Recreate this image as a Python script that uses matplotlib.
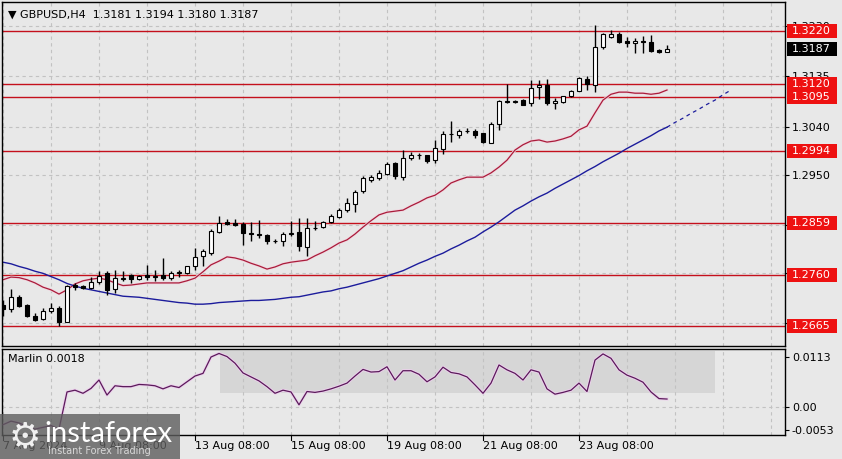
import numpy as np
import matplotlib.pyplot as plt
from matplotlib.patches import Rectangle
from matplotlib.transforms import blended_transform_factory

# GBPUSD H4 candles, first bar = 7 Aug 2024 08:00
opens = [1.2705, 1.2697, 1.2720, 1.2704, 1.2684, 1.2679, 1.2693, 1.2699, 1.2673, 1.2742,
         1.2740, 1.2737, 1.2747, 1.2764, 1.2734, 1.2754, 1.2761, 1.2753, 1.2761, 1.2758,
         1.2761, 1.2755, 1.2765, 1.2765, 1.2777, 1.2796, 1.2803, 1.2841, 1.2861, 1.2858,
         1.2857, 1.2840, 1.2838, 1.2837, 1.2824, 1.2824, 1.2838, 1.2842, 1.2814, 1.2849,
         1.2852, 1.2860, 1.2870, 1.2883, 1.2895, 1.2919, 1.2939, 1.2943, 1.2951, 1.2971,
         1.2946, 1.2981, 1.2987, 1.2986, 1.2977, 1.2998, 1.3026, 1.3025, 1.3031, 1.3032,
         1.3028, 1.3010, 1.3045, 1.3088, 1.3087, 1.3090, 1.3084, 1.3114, 1.3118, 1.3085,
         1.3086, 1.3097, 1.3108, 1.3130, 1.3119, 1.3190, 1.3208, 1.3214, 1.3201, 1.3197,
         1.3202, 1.3199, 1.3185, 1.3181]
highs = [1.2714, 1.2735, 1.2724, 1.2707, 1.2690, 1.2699, 1.2709, 1.2702, 1.2743, 1.2746,
         1.2743, 1.2757, 1.2769, 1.2768, 1.2771, 1.2768, 1.2762, 1.2761, 1.2780, 1.2771,
         1.2793, 1.2769, 1.2771, 1.2778, 1.2812, 1.2810, 1.2847, 1.2872, 1.2867, 1.2866,
         1.2860, 1.2860, 1.2865, 1.2838, 1.2828, 1.2841, 1.2863, 1.2868, 1.2868, 1.2862,
         1.2863, 1.2876, 1.2887, 1.2906, 1.2921, 1.2947, 1.2949, 1.2959, 1.2974, 1.2974,
         1.2996, 1.2993, 1.2991, 1.2987, 1.3014, 1.3031, 1.3051, 1.3035, 1.3037, 1.3036,
         1.3029, 1.3048, 1.3090, 1.3120, 1.3091, 1.3092, 1.3128, 1.3127, 1.3129, 1.3094,
         1.3098, 1.3109, 1.3134, 1.3135, 1.3231, 1.3217, 1.3222, 1.3219, 1.3208, 1.3206,
         1.3211, 1.3212, 1.3186, 1.3194]
lows = [1.2684, 1.2692, 1.2701, 1.2682, 1.2675, 1.2676, 1.2690, 1.2664, 1.2672, 1.2732,
        1.2735, 1.2735, 1.2744, 1.2724, 1.2727, 1.2749, 1.2746, 1.2751, 1.2752, 1.2750,
        1.2752, 1.2752, 1.2758, 1.2763, 1.2771, 1.2778, 1.2799, 1.2840, 1.2855, 1.2853,
        1.2818, 1.2825, 1.2830, 1.2820, 1.2821, 1.2816, 1.2835, 1.2806, 1.2796, 1.2845,
        1.2850, 1.2858, 1.2868, 1.2880, 1.2880, 1.2915, 1.2935, 1.2940, 1.2949, 1.2941,
        1.2939, 1.2978, 1.2980, 1.2972, 1.2972, 1.2989, 1.3012, 1.3018, 1.3028, 1.3019,
        1.3009, 1.3009, 1.3033, 1.3084, 1.3085, 1.3080, 1.3079, 1.3093, 1.3081, 1.3073,
        1.3084, 1.3096, 1.3107, 1.3109, 1.3106, 1.3187, 1.3206, 1.3198, 1.3189, 1.3179,
        1.3179, 1.3181, 1.3178, 1.3180]
closes = [1.2696, 1.2720, 1.2703, 1.2684, 1.2677, 1.2694, 1.2698, 1.2672, 1.2741, 1.2739,
          1.2737, 1.2748, 1.2759, 1.2733, 1.2755, 1.2755, 1.2754, 1.2759, 1.2758, 1.2759,
          1.2755, 1.2765, 1.2766, 1.2777, 1.2795, 1.2806, 1.2844, 1.2859, 1.2856, 1.2855,
          1.2840, 1.2838, 1.2837, 1.2824, 1.2825, 1.2838, 1.2840, 1.2815, 1.2849, 1.2850,
          1.2860, 1.2872, 1.2884, 1.2897, 1.2918, 1.2943, 1.2945, 1.2953, 1.2970, 1.2947,
          1.2981, 1.2987, 1.2986, 1.2976, 1.2999, 1.3026, 1.3027, 1.3031, 1.3032, 1.3024,
          1.3012, 1.3045, 1.3088, 1.3087, 1.3088, 1.3081, 1.3112, 1.3118, 1.3085, 1.3089,
          1.3097, 1.3108, 1.3131, 1.3120, 1.3190, 1.3214, 1.3214, 1.3200, 1.3197, 1.3202,
          1.3200, 1.3183, 1.3181, 1.3187]

# fast MA (red)
ma_fast = [1.2752, 1.2757, 1.2756, 1.2752, 1.2746, 1.2738, 1.2733, 1.2725, 1.2733, 1.2744,
           1.2750, 1.2753, 1.2755, 1.2752, 1.2746, 1.2741, 1.2742, 1.2744, 1.2746, 1.2746,
           1.2746, 1.2746, 1.2746, 1.2750, 1.2755, 1.2767, 1.2780, 1.2787, 1.2795, 1.2793,
           1.2789, 1.2783, 1.2778, 1.2772, 1.2776, 1.2782, 1.2785, 1.2787, 1.2789, 1.2797,
           1.2804, 1.2812, 1.2821, 1.2827, 1.2838, 1.2851, 1.2863, 1.2874, 1.2879, 1.2881,
           1.2883, 1.2891, 1.2898, 1.2906, 1.2911, 1.2921, 1.2934, 1.2940, 1.2945, 1.2945,
           1.2945, 1.2953, 1.2964, 1.2977, 1.2996, 1.3006, 1.3013, 1.3015, 1.3011, 1.3013,
           1.3017, 1.3022, 1.3034, 1.3041, 1.3066, 1.3090, 1.3101, 1.3105, 1.3105, 1.3103,
           1.3103, 1.3101, 1.3103, 1.3109]

# slow MA (blue), the last 8 values run past the last bar
ma_slow = [1.2785, 1.2782, 1.2777, 1.2773, 1.2768, 1.2764, 1.2758, 1.2752, 1.2745, 1.2740,
           1.2736, 1.2733, 1.2730, 1.2727, 1.2724, 1.2721, 1.2720, 1.2719, 1.2717, 1.2715,
           1.2713, 1.2711, 1.2709, 1.2708, 1.2706, 1.2706, 1.2707, 1.2709, 1.2710, 1.2711,
           1.2712, 1.2713, 1.2713, 1.2714, 1.2715, 1.2717, 1.2719, 1.2720, 1.2723, 1.2726,
           1.2729, 1.2731, 1.2735, 1.2738, 1.2742, 1.2746, 1.2750, 1.2754, 1.2759, 1.2764,
           1.2769, 1.2776, 1.2783, 1.2789, 1.2796, 1.2802, 1.2810, 1.2817, 1.2825, 1.2832,
           1.2842, 1.2851, 1.2861, 1.2872, 1.2883, 1.2891, 1.2900, 1.2908, 1.2915, 1.2924,
           1.2932, 1.2940, 1.2948, 1.2957, 1.2965, 1.2974, 1.2982, 1.2990, 1.2999, 1.3007,
           1.3015, 1.3023, 1.3032, 1.3039, 1.3048, 1.3056, 1.3065, 1.3073, 1.3082, 1.3090,
           1.3100, 1.3109]

marlin = [-0.0040, -0.0032, -0.0036, -0.0044, -0.0050, -0.0046, -0.0042, -0.0050, 0.0034, 0.0038,
          0.0031, 0.0042, 0.0061, 0.0027, 0.0048, 0.0046, 0.0046, 0.0051, 0.0050, 0.0048,
          0.0041, 0.0048, 0.0044, 0.0057, 0.0070, 0.0076, 0.0113, 0.0121, 0.0114, 0.0099,
          0.0077, 0.0068, 0.0059, 0.0046, 0.0031, 0.0038, 0.0034, 0.0005, 0.0035, 0.0033,
          0.0036, 0.0041, 0.0047, 0.0054, 0.0070, 0.0085, 0.0079, 0.0080, 0.0091, 0.0061,
          0.0082, 0.0082, 0.0074, 0.0057, 0.0068, 0.0090, 0.0078, 0.0075, 0.0068, 0.0050,
          0.0031, 0.0054, 0.0095, 0.0084, 0.0076, 0.0061, 0.0084, 0.0079, 0.0041, 0.0029,
          0.0033, 0.0038, 0.0054, 0.0035, 0.0106, 0.0120, 0.0110, 0.0084, 0.0072, 0.0065,
          0.0056, 0.0034, 0.0019, 0.0018]

levels = [1.3220, 1.3120, 1.3095, 1.2994, 1.2859, 1.2760, 1.2665]
last_price = 1.3187
price_ticks = [1.2670, 1.2765, 1.2855, 1.2950, 1.3040, 1.3135, 1.3230]
# the three lowest scale labels sit under the red level boxes
price_labels = ['', '', '', '1.2950', '1.3040', '1.3135', '1.3230']
date_pos = [0, 12, 24, 36, 48, 60, 72]
date_labels = ['7 Aug 2024', '9 Aug 08:00', '13 Aug 08:00', '15 Aug 08:00',
               '19 Aug 08:00', '21 Aug 08:00', '23 Aug 08:00']
marlin_ticks = [-0.0053, 0.0, 0.0113]
marlin_labels = ['-0.0053', '0.00', '0.0113']
title = '\u25bc GBPUSD,H4  1.3181 1.3194 1.3180 1.3187'

bg = '#e8e8e8'
grid_c = '#c2c2c2'
W, H = 842, 459

fig = plt.figure(figsize=(W / 100, H / 100), dpi=100, facecolor=bg)
# main panel from y=2 to 346 px, indicator from 349 to 435 px
ax = fig.add_axes([2 / W, 1 - 346 / H, 783 / W, 344 / H], facecolor=bg)
ax2 = fig.add_axes([2 / W, 1 - 435 / H, 783 / W, 86 / H], facecolor=bg)

n = len(opens)
x = np.arange(n)
o = np.array(opens)
c = np.array(closes)

ax.set_xlim(-0.125, 97.75)
ax.set_ylim(1.26273, 1.32746)
ax2.set_xlim(-0.125, 97.75)
ax2.set_ylim(-0.00633, 0.01311)

for a in (ax, ax2):
    a.set_xticks(np.arange(0, 98, 6))
    a.grid(axis='x', color=grid_c, ls=(0, (3, 3)), lw=0.8)
    a.tick_params(axis='x', length=0, labelbottom=False)
    for s in a.spines.values():
        s.set_color('black')
        s.set_linewidth(1)
    a.set_axisbelow(True)

# main panel
ax.yaxis.tick_right()
ax.set_yticks(price_ticks)
ax.set_yticklabels(price_labels)
ax.tick_params(axis='y', length=3, width=0.8, pad=2, labelsize=8)
ax.grid(axis='y', color=grid_c, ls=(0, (3, 3)), lw=0.8)

for lv in levels:
    ax.axhline(lv, color='#c4101c', lw=1, zorder=2)

ax.plot(x, ma_fast, color='#f2d6e0', lw=2, zorder=2)
ax.plot(x, ma_fast, color='#a81c3a', lw=0.9, zorder=2)
ax.plot(x, ma_slow[:n], color='#1c1c9c', lw=1, zorder=2)
xf = np.arange(n - 1, len(ma_slow))
ax.plot(xf, ma_slow[n - 1:], color='#1c1c9c', lw=0.9, ls=(0, (3, 3)), zorder=2)

body_lo = np.minimum(o, c)
body_h = np.maximum(np.abs(c - o), 0.00002)
ax.vlines(x, lows, highs, color='black', lw=1, zorder=3)
ax.bar(x, body_h, bottom=body_lo, width=0.62,
       color=np.where(c >= o, 'white', 'black'), edgecolor='black', lw=0.8, zorder=4)

ax.text(6 / 783, 1 - 13 / 344, title, transform=ax.transAxes, fontsize=8,
        va='center', ha='left', color='black')

# right-hand price boxes
per_px = (ax.get_ylim()[1] - ax.get_ylim()[0]) / 344
trans = blended_transform_factory(ax.transAxes, ax.transData)
bx = (787 - 2) / 783
tx = (792 - 2) / 783
for lv in levels + [last_price]:
    fc = 'black' if lv == last_price else '#ee1111'
    ax.add_patch(Rectangle((bx, lv - 7 * per_px), 50 / 783, 14 * per_px, transform=trans,
                           facecolor=fc, edgecolor='none', clip_on=False, zorder=6))
    ax.text(tx, lv, '%.4f' % lv, transform=trans, color='white', fontsize=8,
            va='center', ha='left', clip_on=False, zorder=7)

# indicator panel
ax2.add_patch(Rectangle((27.1, 0.0032), 61.9, 0.0095, facecolor='#d6d6d6',
                        edgecolor='none', zorder=0.5))
ax2.axhline(0, color=grid_c, ls=(0, (3, 3)), lw=0.8, zorder=0.6)
ax2.plot(x, marlin, color='#ecd0ec', lw=2.2, zorder=2)
ax2.plot(x, marlin, color='#5a1a5a', lw=0.9, zorder=3)
ax2.yaxis.tick_right()
ax2.set_yticks(marlin_ticks)
ax2.set_yticklabels(marlin_labels)
ax2.tick_params(axis='y', length=3, width=0.8, pad=2, labelsize=8)
ax2.text(6 / 783, 1 - 10 / 86, 'Marlin 0.0018', transform=ax2.transAxes, fontsize=8,
         va='center', ha='left')

# date labels under the indicator
dtrans = blended_transform_factory(ax2.transData, ax2.transAxes)
for p, lab in zip(date_pos, date_labels):
    ax2.plot([p, p], [0, -0.06], transform=dtrans, color='black', lw=0.8, clip_on=False)
    ax2.text(p, -0.13, lab, transform=dtrans, fontsize=8, va='center', ha='left',
             clip_on=False)

# watermark
fig.patches.append(Rectangle((0, 0), 180 / W, 45 / H, transform=fig.transFigure,
                             facecolor='#5e5e5e', alpha=0.8, edgecolor='none', zorder=10))
fig.text(25 / W, 1 - 437 / H, '\u2699', fontsize=26, color='#f0f0f0', ha='center',
         va='center', zorder=11)
fig.text(44 / W, 1 - 434 / H, 'instaforex', fontsize=21, color='white', ha='left',
         va='center', family='Lato', zorder=11)
fig.text(48 / W, 1 - 451 / H, 'Instant Forex Trading', fontsize=7, color='#d8d8d8',
         ha='left', va='center', zorder=11)

fig.savefig('out.png', dpi=100, facecolor=bg)
